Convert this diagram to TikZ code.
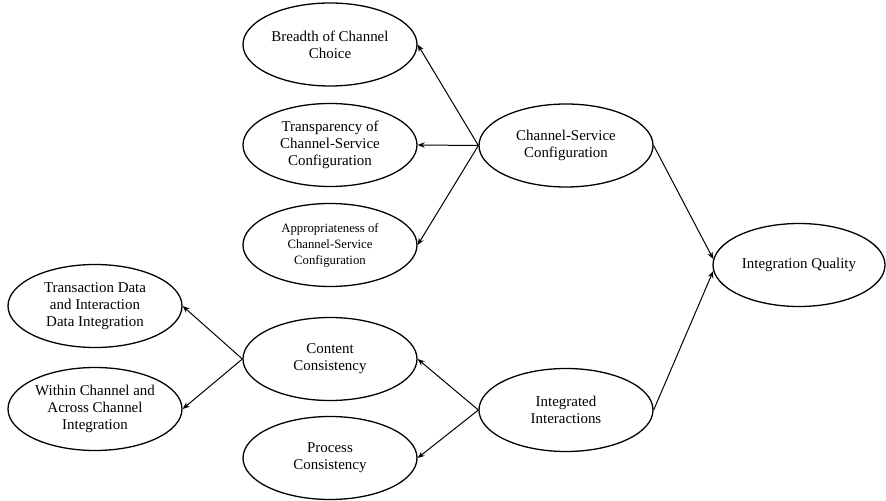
\documentclass[tikz,border=0pt]{standalone}
\usepackage{fontspec}
\setmainfont{Liberation Serif}
\usetikzlibrary{shapes.geometric,arrows.meta}
\begin{document}
\begin{tikzpicture}[x=1bp,y=-1bp,
  oval/.style={ellipse,draw,line width=1.3bp,minimum width=174bp,minimum height=83bp,inner sep=0pt,align=center,font=\fontsize{15}{17}\selectfont},
  ovalsmall/.style={oval,font=\fontsize{12.8}{16}\selectfont},
  link/.style={line width=1bp,-{Stealth[length=7bp,width=5.5bp]}}]
\useasboundingbox (0,0) rectangle (886,501);
\node[oval] (breadth) at (330,44.5) {Breadth of Channel\\Choice};
\node[oval] (transp) at (330,145) {Transparency of\\Channel-Service\\Configuration};
\node[ovalsmall] (approp) at (330,245) {Appropriateness of\\Channel-Service\\Configuration};
\node[oval] (csc) at (566,145.5) {Channel-Service\\Configuration};
\node[oval,minimum width=172bp] (iq) at (799,265) {Integration Quality};
\node[oval] (trans) at (95,306) {Transaction Data\\and Interaction\\Data Integration};
\node[oval] (within) at (95,409) {Within Channel and\\Across Channel\\Integration};
\node[oval] (content) at (330,359) {Content\\Consistency};
\node[oval] (process) at (330,458) {Process\\Consistency};
\node[oval] (ii) at (566,410) {Integrated\\Interactions};
\draw[link] (csc.west) -- (breadth.east);
\draw[link] (csc.west) -- (transp.east);
\draw[link] (csc.west) -- (approp.east);
\draw[link] (content.west) -- (trans.east);
\draw[link] (content.west) -- (within.east);
\draw[link] (ii.west) -- (content.east);
\draw[link] (ii.west) -- (process.east);
\draw[link] (csc.east) -- (iq.176);
\draw[link] (ii.east) -- (iq.184);
\end{tikzpicture}
\end{document}
